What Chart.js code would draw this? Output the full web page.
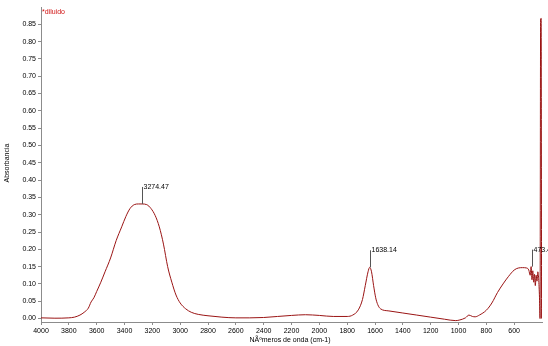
<!DOCTYPE html>
<html>
<head>
<meta charset="utf-8">
<script src="https://cdn.jsdelivr.net/npm/chart.js@4.4.1/dist/chart.umd.min.js"></script>
<style>
  html, body { margin: 0; padding: 0; background: #fff; }
  #wrap { width: 548px; height: 346px; position: relative; }
</style>
</head>
<body>
<div id="wrap"><canvas id="spectrum"></canvas></div>
<script>
// wavenumber (cm-1) and absorbance
const wavenumbers = [4000, 3900, 3800, 3760, 3720, 3690, 3660, 3640, 3620, 3600, 3570, 3540, 3500, 3460, 3420,
    3390, 3360, 3330, 3300, 3274, 3240, 3210, 3180, 3150, 3120, 3090, 3060, 3030, 3000, 2960, 2920, 2870, 2800,
    2700, 2600, 2500, 2400, 2300, 2200, 2100, 2000, 1900, 1800, 1760, 1720, 1690, 1670, 1650, 1638, 1625, 1610,
    1595, 1580, 1560, 1500, 1400, 1300, 1200, 1100, 1020, 990, 950, 925, 900, 880, 850, 800, 760, 720, 680, 640,
    600, 570, 540, 510, 495, 485, 478, 472, 466, 460, 454, 448, 442, 436, 430, 424, 418, 414, 410, 406, 403];
const absorbance = [0.002, 0.001, 0.002, 0.004, 0.010, 0.018, 0.030, 0.048, 0.060, 0.078, 0.105, 0.135, 0.175, 0.225, 0.265,
    0.295, 0.318, 0.329, 0.331, 0.331, 0.329, 0.318, 0.298, 0.265, 0.215, 0.150, 0.105, 0.068, 0.045, 0.028, 0.018, 0.012, 0.008,
    0.004, 0.002, 0.002, 0.003, 0.006, 0.009, 0.011, 0.009, 0.006, 0.006, 0.010, 0.025, 0.055, 0.095, 0.135, 0.148, 0.135, 0.095,
    0.060, 0.040, 0.028, 0.022, 0.016, 0.010, 0.004, -0.002, -0.006, -0.004, 0.002, 0.010, 0.006, 0.005, 0.010, 0.024, 0.045, 0.075, 0.100, 0.122,
    0.140, 0.146, 0.147, 0.146, 0.140, 0.125, 0.150, 0.112, 0.138, 0.105, 0.128, 0.095, 0.125, 0.108, 0.135, 0.115, 0.060, 0.000, 0.865, 0.867, 0.000];

// peak picks
const peakWn = [3274.47, 1638.14, 473.49];
const peakAbs = [0.331, 0.148, 0.150];
const peakLabels = ['3274.47', '1638.14', '473.49'];

const xTicks = [4000, 3800, 3600, 3400, 3200, 3000, 2800, 2600, 2400, 2200, 2000, 1800, 1600, 1400, 1200, 1000, 800, 600];
const yTicks = [0, 0.05, 0.10, 0.15, 0.20, 0.25, 0.30, 0.35, 0.40, 0.45, 0.50, 0.55, 0.60, 0.65, 0.70, 0.75, 0.80, 0.85];

const sampleName = '*diluido';
const xTitle = 'NÃºmeros de onda (cm-1)';
const yTitle = 'Absorbancia';

const FONT = '"Liberation Sans Narrow", "Liberation Sans", Arial, sans-serif';
const axisGray = '#8c8c8c';

const points = wavenumbers.map((w, i) => ({ x: w, y: absorbance[i] }));

const extras = {
    id: 'extras',
    afterDraw(chart) {
        const ctx = chart.ctx;
        const xs = chart.scales.x;
        const ys = chart.scales.y;
        const area = chart.chartArea;
        ctx.save();

        // peak markers
        ctx.font = '7px ' + FONT;
        ctx.textBaseline = 'middle';
        ctx.textAlign = 'left';
        peakWn.forEach((w, i) => {
            const px = Math.round(xs.getPixelForValue(w)) + 0.5;
            const py = ys.getPixelForValue(peakAbs[i]);
            ctx.strokeStyle = '#555';
            ctx.lineWidth = 1;
            ctx.beginPath();
            ctx.moveTo(px, py);
            ctx.lineTo(px, py - 17);
            ctx.stroke();
            ctx.fillStyle = '#000';
            ctx.fillText(peakLabels[i], px + 1, py - 17);
        });

        // sample name
        ctx.fillStyle = '#d01010';
        ctx.fillText(sampleName, area.left + 1, 12);

        // axis titles
        ctx.fillStyle = '#000';
        ctx.textAlign = 'center';
        ctx.fillText(xTitle, 290, 340);
        ctx.translate(7, 163);
        ctx.rotate(-Math.PI / 2);
        ctx.fillText(yTitle, 0, 0);
        ctx.restore();
    }
};

new Chart(document.getElementById('spectrum'), {
    type: 'line',
    data: {
        datasets: [{
            data: points,
            borderColor: '#9a1414',
            borderWidth: 1,
            pointRadius: 0,
            cubicInterpolationMode: 'monotone',
            fill: false
        }]
    },
    options: {
        responsive: true,
        maintainAspectRatio: false,
        animation: false,
        layout: { padding: { top: 7, right: 6, left: 0, bottom: 0 } },
        plugins: { legend: { display: false }, tooltip: { enabled: false } },
        scales: {
            x: {
                type: 'linear',
                reverse: true,
                min: 400,
                max: 4000,
                afterBuildTicks: s => { s.ticks = xTicks.map(v => ({ value: v })); },
                afterFit: s => { s.height = 24; },
                grid: { display: true, drawOnChartArea: false, tickLength: 3, color: axisGray },
                border: { color: axisGray },
                ticks: {
                    font: { family: FONT, size: 7 }, color: '#000', padding: 2, maxRotation: 0, autoSkip: false,
                    callback: v => String(v)
                }
            },
            y: {
                min: -0.01,
                max: 0.9,
                afterBuildTicks: s => { s.ticks = yTicks.map(v => ({ value: v })); },
                afterFit: s => { s.width = 41; },
                grid: { display: true, drawOnChartArea: false, tickLength: 3, color: axisGray },
                border: { color: axisGray },
                ticks: {
                    font: { family: FONT, size: 7 }, color: '#000', padding: 2, autoSkip: false,
                    callback: v => v.toFixed(2)
                }
            }
        }
    },
    plugins: [extras]
});
</script>
</body>
</html>
